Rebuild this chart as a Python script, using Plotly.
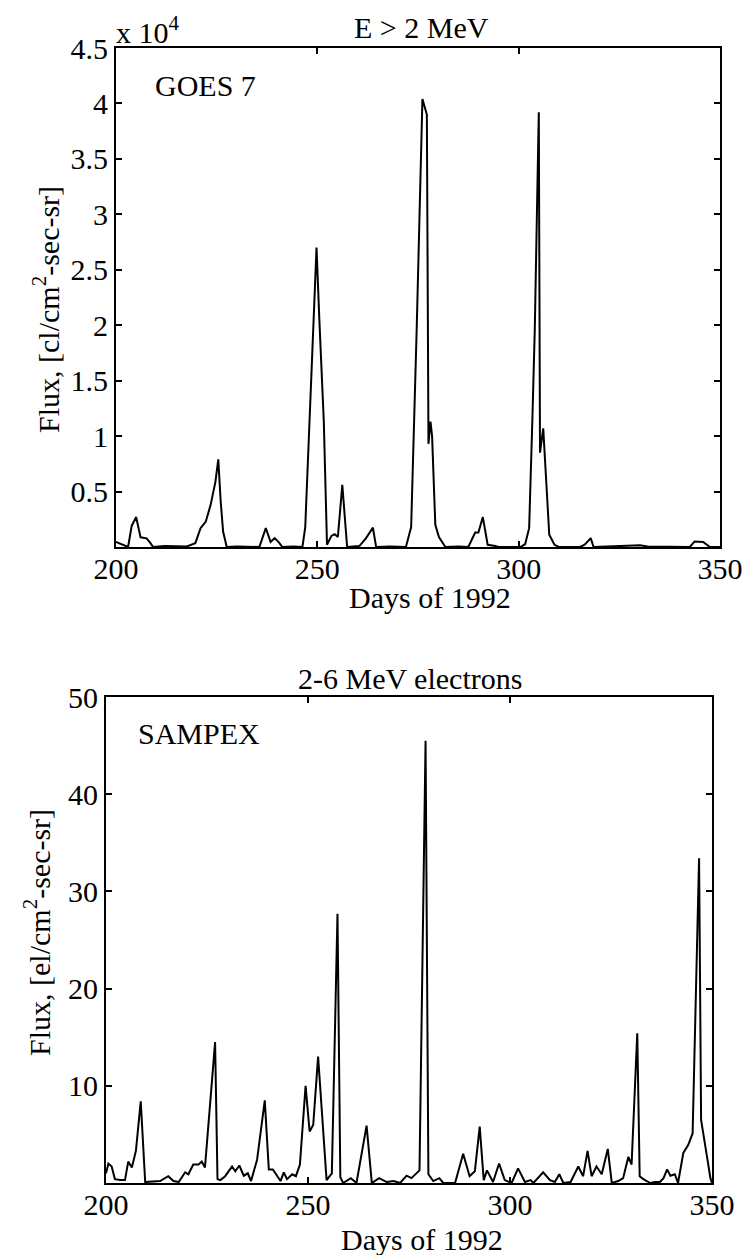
import plotly.graph_objects as go

W, H = 747, 1255
FONT = "Liberation Serif, Times New Roman, serif"

# GOES 7, E > 2 MeV  (day of 1992, flux)
goes_day = [200, 201, 202, 203, 203.9, 205, 206.1, 207.6, 208.6, 209.2,
            212, 215, 217.6, 219.7, 221, 222.3, 223.5, 224.7, 225.4, 226,
            226.6, 227.5, 230, 235.6, 237.2, 238.4, 239.4, 240.5, 241.3, 244,
            246.3, 247, 248, 249, 249.8, 250.5, 251.6, 252.4, 253.5, 254.3,
            255.1, 256.2, 256.8, 257.4, 260.5, 262.1, 263.8, 264.6, 268, 272,
            273.3, 274.1, 274.7, 276.1, 277.2, 277.6, 278.1, 278.5, 279.3, 280.2,
            281.2, 281.8, 285, 287.5, 289.2, 290, 291.1, 292.3, 294.2, 295,
            299.1, 300.4, 301.6, 302.6, 303.4, 304, 305.0, 305.3, 306.1, 306.8,
            307.6, 308.9, 310, 315.2, 316.4, 317.9, 318.6, 322, 327, 330.1,
            332, 338, 342.5, 343.7, 345.8, 347.5, 350]
goes_flux = [450, 300, 100, 0, 1900, 2700, 870, 780, 330, 0,
             80, 60, 50, 350, 1700, 2300, 3800, 5900, 7900, 4100,
             1400, 0, 50, 0, 1700, 450, 800, 400, 0, 50,
             0, 1800, 11000, 20500, 27000, 20500, 11400, 200, 1000, 1150,
             900, 5600, 2900, 0, 100, 800, 1750, 0, 50, 0,
             1800, 11450, 20000, 40400, 39000, 9300, 11300, 10000, 2000, 900,
             400, 0, 50, 0, 1300, 1300, 2700, 200, 100, 0,
             0, 0, 250, 1700, 11450, 19600, 39200, 8500, 10700, 6000,
             1100, 200, 0, 0, 200, 800, 0, 50, 100, 150,
             50, 0, 0, 500, 450, 0, 0]

# SAMPEX, 2-6 MeV electrons
sampex_day = [200, 200.6, 201.4, 202.2, 203.5, 204.7, 205.5, 206.4, 207.4, 208.6,
              209.7, 213.4, 215.4, 216.7, 218, 219.6, 220.4, 221.6, 222.9, 223.7,
              224.5, 227.0, 227.6, 228.3, 229.5, 231.2, 232, 233, 234.1, 235.1,
              235.9, 237.4, 239.3, 240.3, 241.3, 242.3, 243.2, 244, 244.8, 246.1,
              247, 248, 249.4, 250.4, 251.3, 252.5, 253.6, 254.6, 255.9, 257.3,
              258, 258.7, 260.6, 262, 264.5, 265.8, 267.6, 269.5, 271.2, 272.8,
              274.4, 275.6, 277.6, 279.1, 279.8, 281, 282.5, 283.5, 286.4, 288.4,
              290, 291.3, 292.5, 293.5, 294.3, 295.8, 297.3, 298.7, 300.4, 302,
              303.7, 305.1, 305.8, 308.2, 309.9, 311.1, 312.2, 313.2, 315, 316.9,
              318.1, 319.2, 320.2, 321.4, 322.7, 324.2, 325.2, 326.8, 328, 329.3,
              330.1, 330.8, 331.5, 332.1, 333, 334.7, 335.9, 337.1, 338, 338.9,
              339.7, 340.8, 341.6, 342.9, 344.1, 345.2, 346.8, 347.0, 347.3, 349,
              349.6, 350]
sampex_flux = [1.0, 2.0, 1.7, 0.4, 0.3, 0.3, 2.2, 1.6, 3.3, 8.4,
               0.1, 0.2, 0.7, 0.2, 0.1, 1.1, 0.9, 1.9, 1.9, 2.2,
               1.6, 14.5, 0.4, 0.3, 0.7, 1.7, 1.2, 1.8, 0.75, 1.0,
               0.2, 2.4, 8.5, 1.4, 1.4, 0.7, 0.2, 1.1, 0.4, 0.9,
               0.7, 1.9, 10.0, 5.3, 6.0, 13.0, 6.5, 0.3, 1.0, 27.7,
               0.6, 0, 0.5, 0, 5.9, 0, 0.5, 0.1, 0.2, 0,
               0.75, 0.5, 1.3, 45.5, 0.9, 0.2, 0.5, 0, 0, 3.0,
               0.7, 1.2, 5.8, 0.3, 1.3, 0.1, 2.0, 0.3, 0, 1.5,
               0.1, 0.3, 0, 1.1, 0.3, 0.1, 0.9, 0, 0.1, 1.7,
               0.7, 3.3, 0.7, 1.7, 0.9, 3.5, 0, 0.2, 0.5, 2.7,
               1.9, 9.5, 15.4, 0.7, 0.4, 0, 0.1, 0.1, 0.5, 1.4,
               0.75, 0.9, 0, 3.1, 3.9, 5.1, 33.4, 23, 6.5, 2.1,
               0.5, 0]

x_ticks = [200, 250, 300, 350]
goes_ticks = [5000, 10000, 15000, 20000, 25000, 30000, 35000, 40000, 45000]
goes_ticktext = ["0.5", "1", "1.5", "2", "2.5", "3", "3.5", "4", "4.5"]
sampex_ticks = [10, 20, 30, 40, 50]


def hx(p):
    return p / W


def vy(p):
    return 1 - p / H


SIZE = 30
tick_font = dict(family=FONT, size=SIZE, color="black")
axis_style = dict(
    showline=True, linecolor="black", linewidth=2, mirror="ticks",
    ticks="inside", ticklen=6, tickwidth=1.5, tickcolor="black",
    showgrid=False, zeroline=False, tickfont=tick_font, fixedrange=True,
    automargin=False,
)

fig = go.Figure()
fig.add_trace(go.Scatter(x=goes_day, y=goes_flux, mode="lines",
                         line=dict(color="black", width=2), xaxis="x", yaxis="y"))
fig.add_trace(go.Scatter(x=sampex_day, y=sampex_flux, mode="lines",
                         line=dict(color="black", width=2), xaxis="x2", yaxis="y2"))

fig.update_layout(
    width=W, height=H,
    margin=dict(l=0, r=0, t=0, b=0),
    paper_bgcolor="white", plot_bgcolor="white",
    showlegend=False,
    font=dict(family=FONT, size=SIZE, color="black"),
    xaxis=dict(domain=[hx(116), hx(720)], range=[200, 350], tickvals=x_ticks,
               anchor="y", ticklabelstandoff=-6, **axis_style),
    yaxis=dict(domain=[vy(547), vy(48)], range=[0, 45000], tickvals=goes_ticks,
               ticktext=goes_ticktext, anchor="x", **axis_style),
    xaxis2=dict(domain=[hx(106), hx(712)], range=[200, 350], tickvals=x_ticks,
                anchor="y2", ticklabelstandoff=-6, **axis_style),
    yaxis2=dict(domain=[vy(1183), vy(697)], range=[0, 50], tickvals=sampex_ticks,
                anchor="x2", **axis_style),
)

notes = [
    ("E > 2 MeV", 421, 27, "center", 0),
    ("x 10<sup>4</sup>", 114, 30, "left", 0),
    ("GOES 7", 153, 86, "left", 0),
    ("Days of 1992", 430, 597, "center", 0),
    ("2-6 MeV electrons", 410, 678, "center", 0),
    ("SAMPEX", 136, 733, "left", 0),
    ("Days of 1992", 422, 1239, "center", 0),
    ("Flux, [cl/cm<sup>2</sup>-sec-sr]", 46, 310, "center", -90),
    ("Flux, [el/cm<sup>2</sup>-sec-sr]", 37, 933, "center", -90),
]
for text, x, y, anchor, angle in notes:
    fig.add_annotation(text=text, x=hx(x), y=vy(y), xref="paper", yref="paper",
                       xanchor=anchor, yanchor="middle", textangle=angle,
                       showarrow=False, font=dict(family=FONT, size=SIZE, color="black"))

# the page's default body margin would shift the figure by 8 px
fig.write_html("out.html", config={"displayModeBar": False},
               post_script="document.body.style.margin='0';")
